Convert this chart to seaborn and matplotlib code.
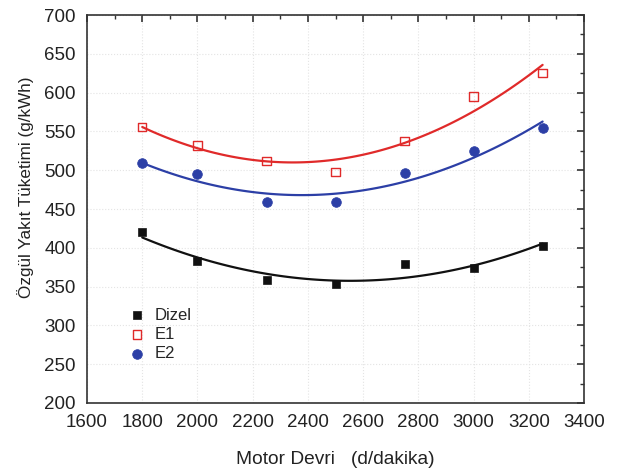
import numpy as np
import pandas as pd
import matplotlib
matplotlib.use("Agg")
import matplotlib.pyplot as plt
import seaborn as sns

rpm = [1800, 2000, 2250, 2500, 2750, 3000, 3250]
dizel = [420, 383, 358, 353, 379, 374, 402]
e1 = [556, 532, 512, 498, 538, 595, 625]
e2 = [509, 495, 459, 459, 497, 525, 555]
series_names = ["Dizel", "E1", "E2"]

sns.set_theme(style="white")
plt.rcParams['font.family'] = ['Liberation Sans', 'DejaVu Sans']

fig = plt.figure(figsize=(6.19, 4.70), dpi=100)
ax = fig.add_axes([0.1406, 0.1426, 0.8029, 0.8254])

colors = {"Dizel": "#111111", "E1": "#e02a2a", "E2": "#2c3fa6"}
vals = {"Dizel": dizel, "E1": e1, "E2": e2}

for name in series_names:
    df = pd.DataFrame({"x": rpm, "y": vals[name]})
    sns.regplot(data=df, x="x", y="y", order=2, ci=None, scatter=False,
                truncate=True, ax=ax, line_kws=dict(color=colors[name], lw=1.6))

df = pd.DataFrame({"x": rpm, "Dizel": dizel})
sns.scatterplot(data=df, x="x", y="Dizel", ax=ax, marker="s", s=36,
                color=colors["Dizel"], edgecolor=colors["Dizel"], label="Dizel", zorder=5)
df = pd.DataFrame({"x": rpm, "E1": e1})
sns.scatterplot(data=df, x="x", y="E1", ax=ax, marker="s", s=36,
                facecolor="none", edgecolor=colors["E1"], linewidth=1.0, label="E1", zorder=5)
df = pd.DataFrame({"x": rpm, "E2": e2})
sns.scatterplot(data=df, x="x", y="E2", ax=ax, marker="o", s=48,
                color=colors["E2"], edgecolor=colors["E2"], label="E2", zorder=5)

ax.set_xlim(1600, 3400)
ax.set_ylim(200, 700)
ax.set_xticks(np.arange(1600, 3401, 200))
ax.set_yticks(np.arange(200, 701, 50))
ax.set_xticks(np.arange(1700, 3400, 200), minor=True)
ax.set_yticks(np.arange(225, 700, 50), minor=True)
ax.grid(True, which="major", color="#e4e4e4", linestyle=":", linewidth=0.8)

for s in ax.spines.values():
    s.set_color("#333333")
    s.set_linewidth(1.2)

ax.tick_params(axis="both", which="major", direction="out", length=5, width=1.2,
               labelsize=13.5, colors="#333333", labelcolor="#222222",
               top=True, right=True, pad=3)
ax.tick_params(axis="both", which="minor", direction="out", length=3, width=1.0,
               colors="#333333", top=True, right=True)
# top/right ticks point inward
for t in ax.xaxis.get_major_ticks() + ax.xaxis.get_minor_ticks():
    t.tick2line.set_marker(matplotlib.lines.TICKDOWN)
for t in ax.yaxis.get_major_ticks() + ax.yaxis.get_minor_ticks():
    t.tick2line.set_marker(matplotlib.lines.TICKLEFT)

ax.set_xlabel("Motor Devri   (d/dakika)", fontsize=13.8, color="#222222", labelpad=14)
ax.set_ylabel("Özgül Yakıt Tüketimi (g/kWh)", fontsize=12.3, color="#222222")
ax.yaxis.set_label_coords(-0.106, 0.557)

leg = ax.legend(loc="upper left", bbox_to_anchor=(0.071, 0.263), frameon=False,
                fontsize=12, handletextpad=0.55, labelspacing=0.26, borderaxespad=0,
                handlelength=1.0)

fig.savefig("out.png", dpi=100)
